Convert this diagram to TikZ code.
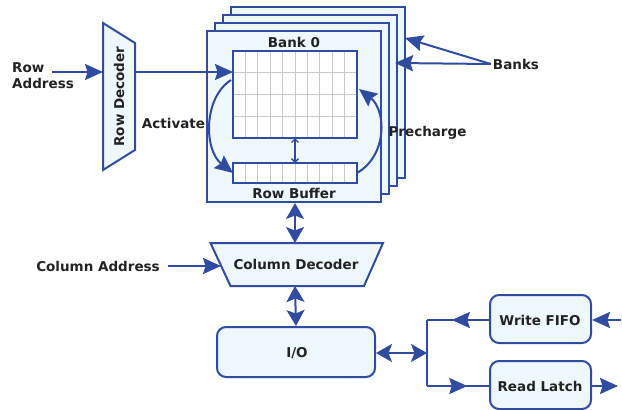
\documentclass[tikz,border=0pt]{standalone}
\usepackage{fontspec}
\setmainfont{DejaVu Sans}
\usepackage{xcolor}
\usetikzlibrary{arrows.meta,calc}

\definecolor{dramblue}{RGB}{48,76,160}
\definecolor{dramfill}{RGB}{238,247,251}
\definecolor{dramtext}{RGB}{34,34,34}
\definecolor{cellgray}{RGB}{200,200,200}

\tikzset{
  blockframe/.style={draw=dramblue, fill=dramfill, line width=2pt},
  roundbox/.style={blockframe, rounded corners=9pt, inner sep=0pt},
  cellbox/.style={draw=dramblue, fill=white, line width=2pt, outer sep=0pt, inner sep=0pt},
  cellline/.style={draw=cellgray, line width=0.9pt},
  tag/.style={text=dramtext, font=\bfseries\fontsize{13.5}{16}\selectfont, inner sep=2pt},
  wire/.style={draw=dramblue, line width=2pt, -{Stealth[length=18pt,width=16pt,inset=2.5pt]}},
  bothwire/.style={draw=dramblue, line width=2pt, {Stealth[length=16pt,width=18pt,inset=3.5pt]}-{Stealth[length=16pt,width=18pt,inset=3.5pt]}},
  thinwire/.style={draw=dramblue, line width=1.3pt, {Straight Barb[length=3.5pt,width=7pt]}-{Straight Barb[length=3.5pt,width=7pt]}}
}

\begin{document}
\begin{tikzpicture}[x=1pt, y=-1pt]
  \useasboundingbox (0,0) rectangle (622,410);

  % banks behind
  \foreach \k in {3,2,1}
    \draw[blockframe] (207+8*\k, 31-8*\k) rectangle (381+8*\k, 202-8*\k);

  % bank 0
  \node[blockframe, minimum width=174pt, minimum height=171pt, inner sep=0pt] (bank) at (294,116.5) {};
  \node[tag] (bankname) at (294,42) {Bank 0};

  % array
  \node[cellbox, minimum width=124pt, minimum height=87pt] (array) at (295,94.5) {};
  \foreach \i in {1,...,9}
    \draw[cellline] ($(array.north west)!\i/10!(array.north east)$) -- ($(array.south west)!\i/10!(array.south east)$);
  \foreach \j in {1,2,3}
    \draw[cellline] ($(array.north west)!\j/4!(array.south west)$) -- ($(array.north east)!\j/4!(array.south east)$);
  \draw[draw=dramblue, line width=2pt] (array.north west) rectangle (array.south east);

  % row buffer
  \node[cellbox, minimum width=124pt, minimum height=20pt] (rowbuf) at (295,173) {};
  \foreach \i in {1,...,9}
    \draw[cellline] ($(rowbuf.north west)!\i/10!(rowbuf.north east)$) -- ($(rowbuf.south west)!\i/10!(rowbuf.south east)$);
  \draw[draw=dramblue, line width=2pt] (rowbuf.north west) rectangle (rowbuf.south east);
  \node[tag] (bufname) at (294,193) {Row Buffer};
  \draw[thinwire] (array.south) -- (rowbuf.north);

  % activate and precharge
  \draw[wire] (231,80) .. controls (203,98) and (204,150) .. (rowbuf.west);
  \node[tag] (activate) at (173.5,123) {Activate};
  \draw[wire] (rowbuf.east) .. controls (388,155) and (386,110) .. (359,89);
  \node[tag] (precharge) at (427.5,133) {Precharge};

  % banks label
  \node[tag] (banks) at (516,64) {Banks};
  \coordinate (bankfar) at (405,38);
  \coordinate (banknear) at (395,63);
  \draw[wire] (banks.west) -- (bankfar);
  \draw[wire] (banks.west) -- (banknear);

  % row decoder
  \draw[blockframe] (103,23) -- (135,43) -- (135,150) -- (103,170) -- cycle;
  \node[tag, rotate=90] (rowdec) at (119,96.5) {Row Decoder};
  \node[tag, align=left, anchor=west] (rowaddr) at (10,76) {Row\\Address};
  \coordinate (rowin) at (52,72);
  \coordinate (rdin) at (103,72);
  \coordinate (rdout) at (135,72);
  \draw[wire] (rowin) -- (rdin);
  \draw[wire] (rdout) -- (array.west |- rdout);

  % column decoder
  \draw[blockframe] (210.5,243) -- (383,243) -- (364,286) -- (230.5,286) -- cycle;
  \node[tag] (coldec) at (296,264) {Column Decoder};
  \coordinate (cdtop) at (295,243);
  \coordinate (cdbot) at (295,286);
  \coordinate (cdin) at (221,266);
  \node[tag] (coladdr) at (98,266) {Column Address};
  \draw[wire] ([xshift=6pt]coladdr.east) -- (cdin);
  \draw[bothwire] (bank.south -| cdtop) -- (cdtop);

  % I/O
  \node[roundbox, minimum width=158pt, minimum height=50pt] (io) at (296,352) {};
  \node[tag] (iotext) at (297,353) {I/O};
  \draw[bothwire] (cdbot) -- (io.north);

  % write fifo and read latch
  \node[roundbox, minimum width=101pt, minimum height=48pt] (wfifo) at (540.5,319) {};
  \node[tag] (wfifotext) at (540,320) {Write FIFO};
  \node[roundbox, minimum width=101pt, minimum height=48pt] (rlatch) at (540.5,385) {};
  \node[tag] (rlatchtext) at (540,386) {Read Latch};

  \coordinate (jn) at (427,353);
  \coordinate (jwf) at (427,320);
  \coordinate (jrl) at (427,386);
  \draw[bothwire] (io.east |- jn) -- (jn);
  \draw[draw=dramblue, line width=2pt] (jwf) -- (jrl);
  \draw[draw=dramblue, line width=2pt] (wfifo.west |- jwf) -- (jwf);
  \draw[wire] (wfifo.west |- jwf) -- ($(wfifo.west |- jwf)!0.6!(jwf)$);
  \draw[draw=dramblue, line width=2pt] (jrl) -- (rlatch.west |- jrl);
  \draw[wire] (jrl) -- ($(jrl)!0.65!(rlatch.west |- jrl)$);

  \coordinate (wfin) at (621,320);
  \coordinate (rlout) at (618,386);
  \draw[wire] (wfin) -- (wfifo.east |- wfin);
  \draw[wire] (rlatch.east |- rlout) -- (rlout);
\end{tikzpicture}
\end{document}
